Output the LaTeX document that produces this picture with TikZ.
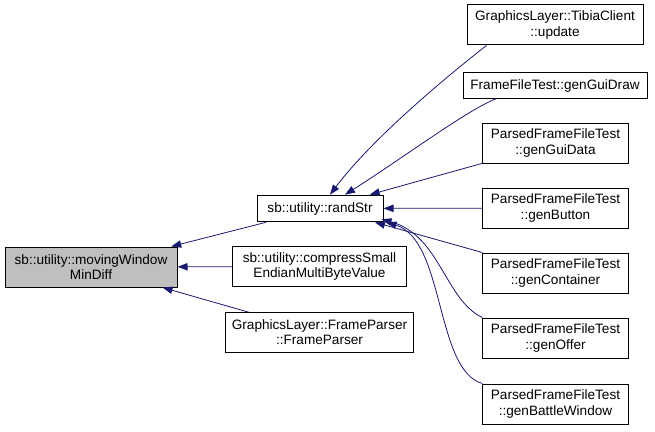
\documentclass[tikz,border=0pt]{standalone}
\usepackage{fontspec}
\setsansfont{Liberation Sans}
\usetikzlibrary{arrows.meta,calc}
\definecolor{dxedge}{HTML}{191970}
\definecolor{dxfocus}{HTML}{BFBFBF}
\tikzset{
  func/.style={rectangle,draw=black,fill=white,line width=.75pt,inner sep=0pt,align=center,font=\sffamily\fontsize{10.2}{11.3}\selectfont,text=black},
  focus/.style={func,fill=dxfocus},
  link/.style={draw=dxedge,line width=.6pt,-{Triangle[length=7.5pt,width=5.5pt]}},
}
\begin{document}
\begin{tikzpicture}[x=.75pt,y=-.75pt]
  \useasboundingbox (0,0) rectangle (655,431);
  \node[focus,minimum width=129pt,minimum height=30pt] (mwmd) at (91,267) {sb::utility::movingWindow\\MinDiff};
  \node[func,minimum width=94.5pt,minimum height=20pt] (randstr) at (320,208.5) {sb::utility::randStr};
  \node[func,minimum width=130pt,minimum height=29.5pt] (compress) at (319.5,266.5) {sb::utility::compressSmall\\EndianMultiByteValue};
  \node[func,minimum width=141.5pt,minimum height=29.5pt] (frameparser) at (319.5,332.5) {GraphicsLayer::FrameParser\\::FrameParser};
  \node[func,minimum width=132pt,minimum height=30pt] (tibiaupd) at (555,25) {GraphicsLayer::TibiaClient\\::update};
  \node[func,minimum width=138pt,minimum height=19pt] (guidraw) at (555,85.5) {FrameFileTest::genGuiDraw};
  \node[func,minimum width=109pt,minimum height=30pt] (guidata) at (555.5,143) {ParsedFrameFileTest\\::genGuiData};
  \node[func,minimum width=109pt,minimum height=30pt] (button) at (555.5,208) {ParsedFrameFileTest\\::genButton};
  \node[func,minimum width=109pt,minimum height=30pt] (container) at (555.5,273) {ParsedFrameFileTest\\::genContainer};
  \node[func,minimum width=109pt,minimum height=30pt] (offer) at (555.5,338) {ParsedFrameFileTest\\::genOffer};
  \node[func,minimum width=109pt,minimum height=30pt] (battlewin) at (555.5,404) {ParsedFrameFileTest\\::genBattleWindow};
  % callers of movingWindowMinDiff
  \draw[link] (randstr) -- (mwmd);
  \draw[link] (compress) -- (mwmd);
  \draw[link] (frameparser) -- (mwmd);
  % callers of randStr
  \draw[link] ($(tibiaupd.south west)+(20,0)$) .. controls (455,70) and (375,135) .. ($(randstr.north)+(10,0)$);
  \draw[link] ($(guidraw.south west)+(34,0)$) .. controls (470,108) and (400,160) .. ($(randstr.north)+(25,0)$);
  \draw[link] (guidata) -- (randstr);
  \draw[link] (button) -- (randstr);
  \draw[link] (container.north west) -- ($(randstr.south)+(55,0)$);
  \draw[link] (offer.north west) .. controls (445,300) and (440,235) .. ($(randstr.south east)+(-2,-3)$);
  \draw[link] (battlewin.north west) .. controls (435,370) and (445,240) .. ($(randstr.south east)+(3,0)$);
\end{tikzpicture}
\end{document}
